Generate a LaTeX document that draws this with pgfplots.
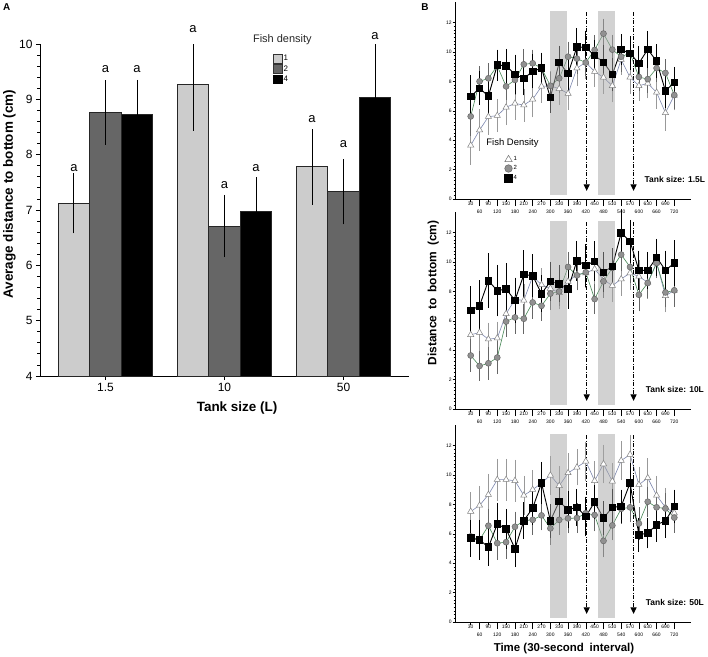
\documentclass[border=0pt]{standalone}
\usepackage{fontspec}
\setmainfont{Liberation Sans}
\usepackage{pgfplots}
\usepackage{pgfplotstable}
\pgfplotsset{compat=1.18}
\usetikzlibrary{arrows.meta}

\definecolor{barlight}{RGB}{204,204,204}
\definecolor{bardark}{RGB}{102,102,102}
\definecolor{triline}{RGB}{125,135,175}
\definecolor{cirline}{RGB}{70,135,85}
\definecolor{cirfill}{RGB}{145,145,145}
\definecolor{shadegray}{RGB}{166,166,166}

% Tank size 1.5 L
\pgfplotstableread{
t   tm    te   cm    ce   sm    se
30  3.65  1.2  5.62  1.2  6.97  1.3
60  4.69  1.3  8.00  0.9  7.53  1.0
90  5.60  1.1  8.21  0.9  7.00  1.1
120 5.67  1.0  9.05  0.9  9.11  0.9
150 6.24  1.1  7.66  0.8  9.06  1.0
180 6.50  1.0  8.10  0.9  8.47  1.2
210 6.39  1.0  9.16  0.9  8.20  1.0
240 6.78  1.1  9.23  0.8  8.68  1.0
270 7.66  1.0  8.90  0.9  8.90  0.9
300 7.70  0.9  7.70  0.8  6.90  0.9
330 7.50  1.0  8.21  0.9  9.29  1.0
360 7.17  1.0  9.68  0.9  8.53  1.1
390 8.90  1.1  9.55  0.9  10.35 1.1
420 9.30  1.0  9.28  0.8  10.30 1.0
450 8.66  0.9  10.14 0.9  9.77  0.9
480 8.27  1.0  11.25 0.9  9.30  1.0
510 7.70  1.0  10.16 0.9  8.47  1.0
540 9.48  0.9  9.68  0.9  10.16 0.9
570 8.28  1.0  9.92  0.8  9.91  1.0
600 7.70  0.9  8.30  0.8  9.23  1.0
630 7.87  0.9  8.15  0.8  10.18 1.1
660 7.25  1.0  8.90  0.8  9.37  1.0
690 5.86  1.1  8.57  0.8  7.35  1.0
720 7.05  0.9  7.07  0.8  7.93  0.9
}\dataS

% Tank size 10 L
\pgfplotstableread{
t   tm    te   cm    ce   sm    se
30  5.05  1.0  3.64  1.0  6.70  1.5
60  5.20  1.1  2.93  0.9  7.02  1.6
90  4.75  1.0  3.11  1.0  8.73  1.7
120 4.82  1.0  3.50  1.0  8.05  1.6
150 6.48  1.0  5.95  0.9  8.16  1.6
180 7.45  1.1  6.23  1.0  7.39  1.4
210 7.39  1.0  6.14  0.9  9.14  1.5
240 9.02  1.0  7.25  1.0  9.07  1.3
270 8.45  1.0  7.02  0.9  7.84  1.1
300 8.20  0.9  7.85  1.0  8.68  1.2
330 7.90  1.0  8.00  0.9  8.52  1.1
360 8.68  1.0  9.66  0.9  8.16  1.2
390 9.14  0.9  9.09  0.9  10.09 1.2
420 9.25  0.9  9.30  0.9  9.77  1.3
450 9.52  1.0  7.48  0.9  10.05 1.2
480 8.80  1.0  8.68  1.0  9.30  1.2
510 8.39  1.0  9.60  1.0  9.70  1.1
540 8.84  1.0  10.50 1.0  11.98 1.5
570 9.25  1.0  9.66  1.0  11.41 1.3
600 9.02  1.0  7.77  1.0  9.43  1.2
630 8.61  1.0  8.57  0.9  9.43  1.1
660 9.93  0.9  9.93  0.9  10.32 1.1
690 7.70  1.0  7.93  0.9  9.43  1.2
720 8.07  1.0  8.07  1.0  9.93  1.4
}\dataM

% Tank size 50 L
\pgfplotstableread{
t   tm    te   cm    ce   sm    se
30  7.52  1.2  5.82  1.0  5.70  1.1
60  7.93  1.2  5.59  1.0  5.59  1.2
90  8.66  1.3  6.55  1.0  5.09  1.1
120 9.68  1.3  5.36  1.0  6.66  1.3
150 9.68  1.3  5.43  1.0  6.34  1.2
180 9.61  1.3  6.48  0.9  4.98  1.1
210 8.61  1.2  6.89  0.9  6.89  1.1
240 9.00  1.2  6.95  0.9  7.75  1.0
270 9.45  1.3  7.25  0.9  9.45  1.3
300 9.98  1.2  6.37  1.0  6.89  1.0
330 9.27  1.2  6.95  0.9  8.20  1.1
360 10.14 1.2  7.05  0.9  7.64  1.1
390 10.52 1.1  7.07  0.9  7.80  1.1
420 10.93 1.2  7.40  0.9  7.18  1.2
450 9.61  1.2  7.28  1.0  8.16  1.0
480 10.75 1.2  5.52  1.0  7.07  1.0
510 9.57  1.1  6.57  0.9  7.80  1.1
540 10.98 1.2  7.70  0.9  7.86  1.0
570 11.39 1.2  7.80  0.9  9.45  1.2
600 9.34  1.1  6.70  1.0  5.93  1.0
630 9.80  1.2  8.18  0.9  6.05  0.9
660 8.61  1.2  7.80  0.9  6.61  1.0
690 7.80  1.2  7.72  0.9  6.89  1.0
720 7.41  1.0  7.10  0.9  7.86  1.0
}\dataL

% Panel A: group position x, mean, error (light = density 1, dark = 2, black = 4)
\pgfplotstableread{
x      m     e
-0.265 7.12  0.46
 0.735 9.27  0.76
 1.735 7.78  0.60
}\barOne
\pgfplotstableread{
x      m     e
 0.000 8.76  0.50
 1.000 6.71  0.48
 2.000 7.33  0.51
}\barTwo
\pgfplotstableread{
x      m     e
 0.265 8.73  0.54
 1.265 6.97  0.54
 2.265 9.03  0.88
}\barFour

\pgfplotsset{
  tri/.style={color=triline, line width=0.6bp, mark=triangle*, mark size=3.6bp,
    mark options={fill=white, draw=black!50, line width=0.5bp},
    error bars/y dir=both, error bars/y explicit,
    error bars/error bar style={black!40, line width=0.6bp},
    error bars/error mark options={black!40, mark size=1.8bp, line width=0.6bp}},
  cir/.style={color=cirline, line width=0.6bp, mark=*, mark size=3bp,
    mark options={fill=cirfill, draw=black!60, line width=0.5bp},
    error bars/y dir=both, error bars/y explicit,
    error bars/error bar style={black!60, line width=0.7bp},
    error bars/error mark options={black!60, mark size=1.8bp, line width=0.7bp}},
  sqr/.style={color=black, line width=0.9bp, mark=square*, mark size=3.3bp,
    mark options={fill=black, draw=black},
    error bars/y dir=both, error bars/y explicit,
    error bars/error bar style={black, line width=0.9bp},
    error bars/error mark options={black, mark size=2.2bp, line width=0.9bp}},
  errA/.style={draw=none, mark=none, forget plot,
    error bars/y dir=both, error bars/y explicit,
    error bars/error bar style={black, line width=0.9bp, solid},
    error bars/error mark options={black, mark size=4.5bp, line width=0.9bp}},
  Bax/.style={
    scale only axis, width=236bp, height=197bp,
    xmin=-23.2, xmax=776.6, ymin=0, ymax=13.4,
    axis x line*=bottom, axis y line*=left,
    axis line style={line width=0.7bp, -},
    ytick={0,2,4,6,8,10,12}, minor y tick num=7,
    xtick={30,90,...,690},
    extra x ticks={60,120,...,720},
    extra x tick style={major tick length=7bp, xticklabel style={yshift=-3.5bp}},
    tick align=outside,
    major tick length=2.5bp, minor tick length=1.5bp,
    every tick/.style={black, line width=0.5bp},
    tick label style={font=\fontsize{5}{5}\selectfont, inner sep=0.6bp},
    /pgf/number format/assume math mode=true,
    clip=false,
  },
}
\tikzset{darrow/.style={line width=0.9bp, dash pattern=on 4bp off 1.5bp on 1bp off 1.5bp,
  -{Triangle[width=6bp,length=6.5bp]}}}

\begin{document}
\begin{tikzpicture}
\path (0,0) rectangle (708bp,-657bp);

% ---------------- Panel A ----------------
\begin{axis}[
  at={(40bp,-376bp)}, anchor=south west, scale only axis, width=369bp, height=332bp,
  xmin=-0.55, xmax=2.55, ymin=4, ymax=10,
  axis x line*=bottom, axis y line*=left, axis line style={line width=1bp, -},
  xtick={0,1,2}, xticklabels={1.5,10,50},
  ytick={4,5,...,10}, minor y tick num=4,
  tick align=outside, major tick length=4bp, minor tick length=2.5bp,
  every tick/.style={black, line width=0.8bp},
  tick label style={font=\fontsize{12}{12}\selectfont},
  /pgf/number format/assume math mode=true,
  xlabel={Tank size (L)}, ylabel={Average distance to bottom (cm)},
  label style={font=\bfseries\fontsize{13.5}{14}\selectfont},
  xlabel style={at={(axis description cs:0.534,-0.0964)}, anchor=center},
  ylabel style={at={(axis description cs:-0.0827,0.548)}, anchor=center},
  legend style={at={(axis description cs:0.632,0.970)}, anchor=north west, draw=none, fill=none,
    inner sep=0pt, row sep=1.1bp, font=\fontsize{8}{8}\selectfont, nodes={inner sep=1bp}},
  legend cell align=left,
  after end axis/.code={
    \node[font=\fontsize{13}{13}\selectfont] at (axis cs:-0.265,7.76) {a};
    \node[font=\fontsize{13}{13}\selectfont] at (axis cs:0,9.54) {a};
    \node[font=\fontsize{13}{13}\selectfont] at (axis cs:0.265,9.54) {a};
    \node[font=\fontsize{13}{13}\selectfont] at (axis cs:0.735,10.27) {a};
    \node[font=\fontsize{13}{13}\selectfont] at (axis cs:1,7.45) {a};
    \node[font=\fontsize{13}{13}\selectfont] at (axis cs:1.265,7.75) {a};
    \node[font=\fontsize{13}{13}\selectfont] at (axis cs:1.735,8.65) {a};
    \node[font=\fontsize{13}{13}\selectfont] at (axis cs:2,8.2) {a};
    \node[font=\fontsize{13}{13}\selectfont] at (axis cs:2.265,10.14) {a};
    \node[font=\fontsize{11}{11}\selectfont, text=black!85] at (axis cs:1.486,10.07) {Fish density};
  },
]
\addlegendimage{legend image code/.code={\draw[fill=barlight, draw=black!80, line width=0.6bp] (0bp,-4.3bp) rectangle (8.7bp,4.3bp);}}
\addlegendentry{1}
\addlegendimage{legend image code/.code={\draw[fill=bardark, draw=black!80, line width=0.6bp] (0bp,-4.3bp) rectangle (8.7bp,4.3bp);}}
\addlegendentry{2}
\addlegendimage{legend image code/.code={\draw[fill=black, draw=black, line width=0.6bp] (0bp,-4.3bp) rectangle (8.7bp,4.3bp);}}
\addlegendentry{4}

\addplot[ybar, bar width=0.265, bar shift=0, fill=barlight, draw=black!85, line width=0.7bp, forget plot]
  table[x=x, y=m] {\barOne};
\addplot[ybar, bar width=0.265, bar shift=0, fill=bardark, draw=black!85, line width=0.7bp, forget plot]
  table[x=x, y=m] {\barTwo};
\addplot[ybar, bar width=0.265, bar shift=0, fill=black, draw=black!85, line width=0.7bp, forget plot]
  table[x=x, y=m] {\barFour};
\addplot[errA] table[x=x, y=m, y error=e] {\barOne};
\addplot[errA] table[x=x, y=m, y error=e] {\barTwo};
\addplot[errA] table[x=x, y=m, y error=e] {\barFour};
\end{axis}

% ---------------- Panel B: 1.5 L ----------------
\begin{axis}[Bax, at={(455bp,-199bp)}, anchor=south west,
  legend style={at={(axis description cs:0.209,0.223)}, anchor=north west, draw=none, fill=none,
    inner sep=0pt, row sep=1.4bp, font=\fontsize{6}{6}\selectfont, nodes={inner sep=1bp}},
  legend cell align=left]
\addlegendimage{legend image code/.code={\draw[only marks, mark=triangle*, mark size=4.2bp, mark options={fill=white, draw=black!55, line width=0.5bp}] plot coordinates {(4.2bp,0bp)};}}
\addlegendentry{1}
\addlegendimage{legend image code/.code={\draw[only marks, mark=*, mark size=3.8bp, mark options={fill=cirfill, draw=black!60, line width=0.5bp}] plot coordinates {(4.2bp,0bp)};}}
\addlegendentry{2}
\addlegendimage{legend image code/.code={\draw[only marks, mark=square*, mark size=4bp, mark options={fill=black, draw=black}] plot coordinates {(4.2bp,0bp)};}}
\addlegendentry{4}
\addplot[tri] table[x=t, y=tm, y error=te] {\dataS};
\addplot[cir] table[x=t, y=cm, y error=ce] {\dataS};
\addplot[sqr] table[x=t, y=sm, y error=se] {\dataS};
\fill[shadegray, opacity=0.5] (axis cs:300,0.27) rectangle (axis cs:357,12.8);
\fill[shadegray, opacity=0.5] (axis cs:462,0.27) rectangle (axis cs:518,12.8);
\draw[darrow] (axis cs:423,12.7) -- (axis cs:423,0.55);
\draw[darrow] (axis cs:582,12.7) -- (axis cs:582,0.55);
\node[font=\fontsize{9.5}{9.5}\selectfont] at (axis cs:171.6,3.79) {Fish Density};
\node[font=\bfseries\fontsize{8.5}{8.5}\selectfont] at (axis cs:722,1.3) {Tank size: 1.5L};
\end{axis}

% ---------------- Panel B: 10 L ----------------
\begin{axis}[Bax, at={(455bp,-409bp)}, anchor=south west]
\addplot[tri] table[x=t, y=tm, y error=te] {\dataM};
\addplot[cir] table[x=t, y=cm, y error=ce] {\dataM};
\addplot[sqr] table[x=t, y=sm, y error=se] {\dataM};
\fill[shadegray, opacity=0.5] (axis cs:300,0.27) rectangle (axis cs:357,12.8);
\fill[shadegray, opacity=0.5] (axis cs:462,0.27) rectangle (axis cs:518,12.8);
\draw[darrow] (axis cs:423,12.7) -- (axis cs:423,0.55);
\draw[darrow] (axis cs:582,12.7) -- (axis cs:582,0.55);
\node[font=\bfseries\fontsize{8.5}{8.5}\selectfont] at (axis cs:722,1.3) {Tank size: 10L};
\end{axis}

% ---------------- Panel B: 50 L ----------------
\begin{axis}[Bax, at={(455bp,-622bp)}, anchor=south west]
\addplot[tri] table[x=t, y=tm, y error=te] {\dataL};
\addplot[cir] table[x=t, y=cm, y error=ce] {\dataL};
\addplot[sqr] table[x=t, y=sm, y error=se] {\dataL};
\fill[shadegray, opacity=0.5] (axis cs:300,0.27) rectangle (axis cs:357,12.8);
\fill[shadegray, opacity=0.5] (axis cs:462,0.27) rectangle (axis cs:518,12.8);
\draw[darrow] (axis cs:423,12.7) -- (axis cs:423,0.55);
\draw[darrow] (axis cs:582,12.7) -- (axis cs:582,0.55);
\node[font=\bfseries\fontsize{8.5}{8.5}\selectfont] at (axis cs:722,1.3) {Tank size: 50L};
\end{axis}

% ---------------- Labels ----------------
\node[font=\bfseries\fontsize{10}{10}\selectfont] at (6.7bp,-7.3bp) {A};
\node[font=\bfseries\fontsize{10}{10}\selectfont] at (425bp,-7.3bp) {B};
\node[font=\bfseries\fontsize{12}{12}\selectfont, rotate=90] at (433.3bp,-293bp) {Distance\hspace{0.5em}to\hspace{0.5em}bottom\hspace{0.5em}(cm)};
\node[font=\bfseries\fontsize{11.5}{11.5}\selectfont] at (564bp,-649bp) {Time (30-second\hspace{0.5em}interval)};

\pgfresetboundingbox
\path (0,0) rectangle (708bp,-657bp);
\end{tikzpicture}
\end{document}
